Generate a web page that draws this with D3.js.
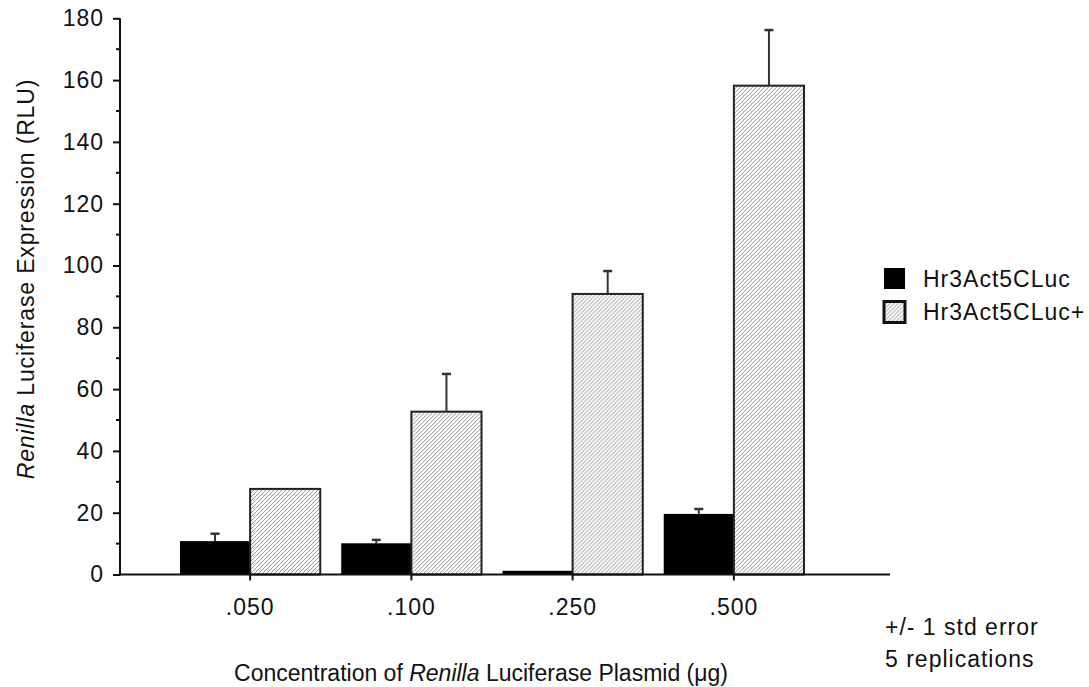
<!DOCTYPE html>
<html>
<head>
<meta charset="utf-8">
<script src="https://cdn.jsdelivr.net/npm/d3@7"></script>
<style>
  body { margin: 0; background: #fff; }
  text { font-family: "Liberation Sans", Arial, sans-serif; fill: #111; }
</style>
</head>
<body>
<div id="chart"></div>
<script>
// Data
const categories = [".050", ".100", ".250", ".500"];
const seriesNames = ["Hr3Act5CLuc", "Hr3Act5CLuc+"];
const hr3Values = [10.8, 10.1, 1.2, 19.6];
const hr3Errors = [2.4, 1.1, 0, 1.6];
const hr3PlusValues = [27.7, 52.7, 90.8, 158.2];
const hr3PlusErrors = [0, 12.2, 7.4, 18.0];
const yTicks = [0, 20, 40, 60, 80, 100, 120, 140, 160, 180];
const yMinorTicks = [10, 30, 50, 70, 90, 110, 130, 150, 170];

const W = 1089, H = 687;
const svg = d3.select("#chart").append("svg")
    .attr("width", W)
    .attr("height", H);

// Hatch pattern for the second series
const defs = svg.append("defs");
const pat = defs.append("pattern")
    .attr("id", "hatch")
    .attr("patternUnits", "userSpaceOnUse")
    .attr("width", 4)
    .attr("height", 4);
pat.append("rect").attr("width", 4).attr("height", 4).attr("fill", "#fafafa");
pat.append("path")
    .attr("d", "M-1,1 l2,-2 M0,4 l4,-4 M3,5 l2,-2")
    .attr("stroke", "#9a9a9a")
    .attr("stroke-width", 1);

const axisX0 = 120, axisX1 = 890;

const y = d3.scaleLinear().domain([0, 180]).range([574.5, 18.3]);

const x = d3.scaleBand()
    .domain(categories)
    .range([169.5, 814.5])
    .paddingInner(0.13)
    .paddingOuter(0.065);

const xs = d3.scaleBand()
    .domain(seriesNames)
    .range([0, x.bandwidth()]);

const rows = categories.map((c, i) => ({
  cat: c,
  bars: [
    { s: seriesNames[0], v: hr3Values[i], e: hr3Errors[i] },
    { s: seriesNames[1], v: hr3PlusValues[i], e: hr3PlusErrors[i] }
  ]
}));

// Error bars (upper only), drawn under the bars
const errG = svg.append("g");
rows.forEach(r => {
  r.bars.forEach(b => {
    if (b.e <= 0) return;
    const cx = x(r.cat) + xs(b.s) + xs.bandwidth() / 2;
    errG.append("line")
        .attr("x1", cx).attr("x2", cx)
        .attr("y1", y(b.v)).attr("y2", y(b.v + b.e))
        .attr("stroke", "#333").attr("stroke-width", 2);
    errG.append("line")
        .attr("x1", cx - 4.5).attr("x2", cx + 4.5)
        .attr("y1", y(b.v + b.e)).attr("y2", y(b.v + b.e))
        .attr("stroke", "#333").attr("stroke-width", 2.5);
  });
});

// Bars
const groups = svg.append("g").selectAll("g")
    .data(rows)
    .join("g")
    .attr("transform", d => `translate(${x(d.cat)},0)`);

groups.selectAll("rect")
    .data(d => d.bars)
    .join("rect")
    .attr("x", d => xs(d.s))
    .attr("width", xs.bandwidth())
    .attr("y", d => y(d.v))
    .attr("height", d => y(0) - y(d.v))
    .attr("fill", d => d.s === seriesNames[0] ? "#000" : "url(#hatch)")
    .attr("stroke", "#222")
    .attr("stroke-width", d => d.s === seriesNames[0] ? 0 : 2);

// Y axis
const yAxis = svg.append("g")
    .attr("transform", `translate(${axisX0},0)`)
    .call(d3.axisLeft(y).tickValues(yTicks).tickSize(7).tickPadding(9));
yAxis.select(".domain").remove();
yAxis.selectAll(".tick line").attr("stroke", "#111").attr("stroke-width", 2);
yAxis.selectAll(".tick text")
    .style("font-size", "23px")
    .style("letter-spacing", "1px")
    .style("font-family", "'Liberation Sans', Arial, sans-serif")
    .attr("fill", "#111");
svg.append("g")
    .selectAll("line")
    .data(yMinorTicks)
    .join("line")
    .attr("x1", axisX0 - 4).attr("x2", axisX0)
    .attr("y1", d => y(d)).attr("y2", d => y(d))
    .attr("stroke", "#111").attr("stroke-width", 2);
svg.append("line")
    .attr("x1", axisX0).attr("x2", axisX0)
    .attr("y1", y(180)).attr("y2", y(0) + 1)
    .attr("stroke", "#111").attr("stroke-width", 2);

// X axis
svg.append("line")
    .attr("x1", axisX0).attr("x2", axisX1)
    .attr("y1", y(0)).attr("y2", y(0))
    .attr("stroke", "#111").attr("stroke-width", 2);
const xTicks = svg.append("g").selectAll("g")
    .data(categories)
    .join("g")
    .attr("transform", d => `translate(${x(d) + x.bandwidth() / 2},${y(0)})`);
xTicks.append("line")
    .attr("y1", 0).attr("y2", 6)
    .attr("stroke", "#111").attr("stroke-width", 2);
xTicks.append("text")
    .attr("y", 40)
    .attr("text-anchor", "middle")
    .style("font-size", "23px")
    .style("letter-spacing", "1px")
    .text(d => d);

// Axis titles
const yTitle = svg.append("text")
    .attr("transform", "translate(34,279) rotate(-90)")
    .attr("text-anchor", "middle")
    .style("font-size", "23px")
    .style("letter-spacing", "0.85px");
yTitle.append("tspan").style("font-style", "italic").text("Renilla");
yTitle.append("tspan").text(" Luciferase Expression (RLU)");

const xTitle = svg.append("text")
    .attr("x", 481)
    .attr("y", 681)
    .attr("text-anchor", "middle")
    .style("font-size", "23px");
xTitle.append("tspan").text("Concentration of ");
xTitle.append("tspan").style("font-style", "italic").text("Renilla");
xTitle.append("tspan").text(" Luciferase Plasmid (\u03bcg)");

// Legend
const legend = svg.append("g").selectAll("g")
    .data(seriesNames)
    .join("g")
    .attr("transform", (d, i) => `translate(884,${268 + i * 33.5})`);
legend.append("rect")
    .attr("width", 21).attr("height", 21)
    .attr("fill", (d, i) => i === 0 ? "#000" : "url(#hatch)")
    .attr("stroke", "#111")
    .attr("stroke-width", (d, i) => i === 0 ? 0 : 3);
legend.append("text")
    .attr("x", 39)
    .attr("y", 18.5)
    .style("font-size", "23px")
    .style("letter-spacing", "1px")
    .text(d => d);

// Notes
const notes = ["+/- 1 std error", "5 replications"];
svg.append("g").selectAll("text")
    .data(notes)
    .join("text")
    .attr("x", 885)
    .attr("y", (d, i) => 635 + i * 32)
    .style("font-size", "23px")
    .style("letter-spacing", "1px")
    .text(d => d);
</script>
</body>
</html>
